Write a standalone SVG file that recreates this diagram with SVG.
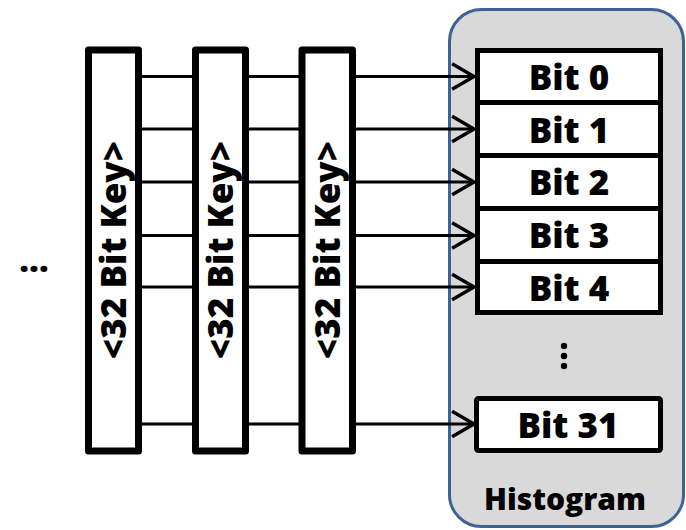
<svg xmlns="http://www.w3.org/2000/svg" width="686" height="530" viewBox="0 0 686 530">
<defs>
<style>
.t{font-family:"Open Sans","Noto Sans","Liberation Sans",sans-serif;font-weight:800;fill:#000;text-anchor:middle}
.bar{fill:#fff;stroke:#000;stroke-width:7;stroke-linejoin:round}
.bit{fill:#fff;stroke:#000;stroke-width:5}
.c{stroke:#000;stroke-width:3;fill:none}
</style>
<marker id="ah" markerUnits="userSpaceOnUse" markerWidth="30" markerHeight="30" viewBox="-22 -13 24 26" refX="0" refY="0" orient="auto">
<path d="M-19,-11 L0,0 L-19,11" fill="none" stroke="#000" stroke-width="3"/>
</marker>
</defs>
<rect width="686" height="530" fill="#fff"/>
<g id="histogram">
<rect x="449.5" y="9.5" width="234" height="517" rx="32" fill="#d9d9d9" stroke="#3d6394" stroke-width="3"/>
<text class="t" x="565" y="510" font-size="30">Histogram</text>
</g>
<g id="connectors">
<line class="c" x1="139" y1="76.5" x2="474" y2="76.5" marker-end="url(#ah)"/>
<line class="c" x1="139" y1="129" x2="474" y2="129" marker-end="url(#ah)"/>
<line class="c" x1="139" y1="182" x2="474" y2="182" marker-end="url(#ah)"/>
<line class="c" x1="139" y1="235.5" x2="474" y2="235.5" marker-end="url(#ah)"/>
<line class="c" x1="139" y1="287" x2="474" y2="287" marker-end="url(#ah)"/>
<line class="c" x1="139" y1="424" x2="474" y2="424" marker-end="url(#ah)"/>
</g>
<g id="key1">
<rect class="bar" x="88.5" y="50" width="50" height="401"/>
<text class="t" font-size="35" transform="translate(126,250) rotate(-90)">&lt;32 Bit Key&gt;</text>
</g>
<g id="key2">
<rect class="bar" x="195.5" y="50" width="50" height="401"/>
<text class="t" font-size="35" transform="translate(233,250) rotate(-90)">&lt;32 Bit Key&gt;</text>
</g>
<g id="key3">
<rect class="bar" x="302" y="50" width="50.5" height="401"/>
<text class="t" font-size="35" transform="translate(340,250) rotate(-90)">&lt;32 Bit Key&gt;</text>
</g>
<g id="ellipsis">
<text class="t" x="34" y="272" font-size="34">…</text>
</g>
<g id="bit0">
<rect class="bit" x="477.5" y="50.5" width="183" height="52"/>
<text class="t" x="569" y="90" font-size="35">Bit 0</text>
</g>
<g id="bit1">
<rect class="bit" x="477.5" y="102.5" width="183" height="53"/>
<text class="t" x="569" y="143" font-size="35">Bit 1</text>
</g>
<g id="bit2">
<rect class="bit" x="477.5" y="155.5" width="183" height="53"/>
<text class="t" x="569" y="195" font-size="35">Bit 2</text>
</g>
<g id="bit3">
<rect class="bit" x="477.5" y="208.5" width="183" height="53"/>
<text class="t" x="569" y="248" font-size="35">Bit 3</text>
</g>
<g id="bit4">
<rect class="bit" x="477.5" y="261.5" width="183" height="51"/>
<text class="t" x="569" y="301" font-size="35">Bit 4</text>
</g>
<g id="vdots">
<circle cx="564" cy="346" r="3.2"/>
<circle cx="564" cy="356" r="3.2"/>
<circle cx="564" cy="366" r="3.2"/>
</g>
<g id="bit31">
<rect class="bit" x="476.5" y="398.5" width="184" height="52" rx="2"/>
<text class="t" x="568" y="438" font-size="35">Bit 31</text>
</g>
</svg>
